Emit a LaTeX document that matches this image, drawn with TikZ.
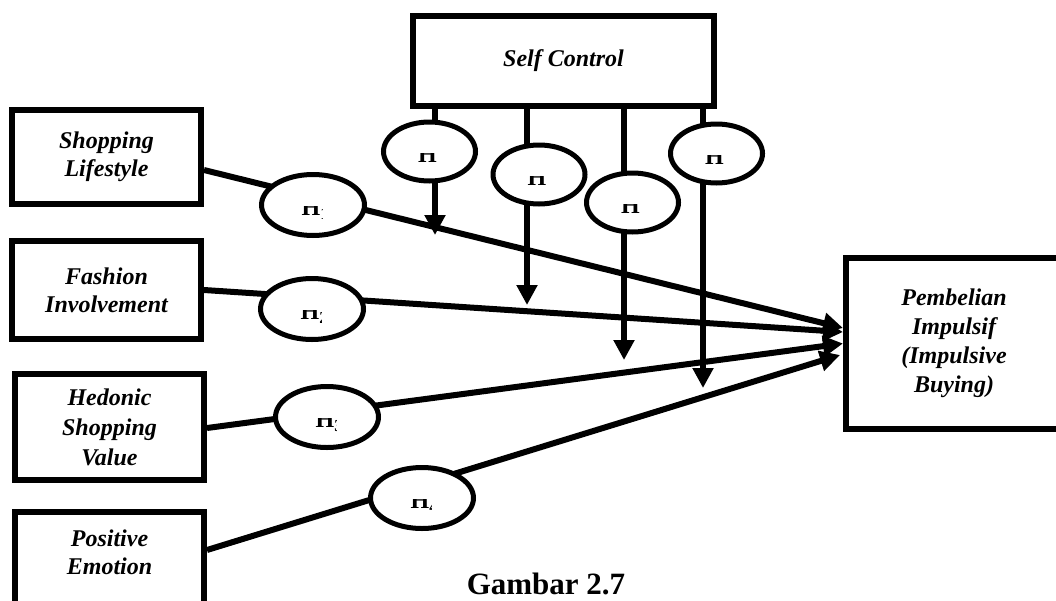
\documentclass[tikz,border=0pt]{standalone}
\usepackage{fontspec}
\setmainfont{Liberation Serif}
\usetikzlibrary{arrows.meta,shapes.geometric,calc}
\newcommand\hyplab[2]{%
  \begin{scope}
    \clip ($(#1.center)+(-20,1.5)$) rectangle ($(#1.center)+(9.5,20)$);
    \node[hlab] at ($(#1.center)+(-11.5,10.5)$) {#2};
  \end{scope}}
\begin{document}
\begin{tikzpicture}[x=1pt,y=-1pt,
  box/.style={draw, line width=6pt, rectangle, align=center, inner sep=0pt,
    font=\fontsize{24}{28}\selectfont\bfseries\itshape},
  hyp/.style={draw, ellipse, line width=5pt, fill=white, inner sep=0pt},
  lhyp/.style={hyp, minimum width=103pt, minimum height=61pt},
  thyp/.style={hyp, minimum width=92pt, minimum height=59pt},
  conn/.style={line width=6pt},
  arr/.style={conn, -{Triangle[length=20pt,width=20pt]}},
  hlab/.style={font=\fontsize{24}{28}\selectfont\bfseries, inner sep=0pt, anchor=base west}
]
\useasboundingbox (0,0) rectangle (1056,600);
\clip (0,0) rectangle (1056,600);

% boxes
\node[box, minimum width=301pt, minimum height=90pt] (SC) at (563.5,61) {Self Control};
\node[box, minimum width=189pt, minimum height=94pt] (SL) at (106.5,157) {Shopping\\Lifestyle};
\node[box, minimum width=189pt, minimum height=98pt] (FI) at (106.5,290) {Fashion\\Involvement};
\node[box, minimum width=189pt, minimum height=106pt, font=\fontsize{24}{30}\selectfont\bfseries\itshape] (HS) at (109.5,427) {Hedonic\\Shopping\\Value};
\node[box, minimum width=189pt, minimum height=116pt] (PE) at (109.5,570) {Positive\\Emotion\\\strut};
\node[box, minimum width=216pt, minimum height=171pt, font=\fontsize{24}{29}\selectfont\bfseries\itshape] (PB) at (954,343.5) {Pembelian\\Impulsif\\(Impulsive\\Buying)};

% main paths
\draw[arr] ([yshift=-13pt]SL.east) -- ([yshift=15.5pt]PB.west);
\draw[arr] (FI.east) -- ([yshift=11.5pt]PB.west);
\draw[arr] ([yshift=-1pt]HS.east) -- (PB.west);
\draw[arr] ([yshift=20pt]PE.east) -- ([xshift=-3pt,yshift=-11.5pt]PB.west);

% moderating arrows
\coordinate (m1) at (435,235);
\coordinate (m2) at (527,305);
\coordinate (m3) at (624,360);
\coordinate (m4) at (703,388);
\draw[arr] (SC.south -| m1) -- (m1);
\draw[arr] (SC.south -| m2) -- (m2);
\draw[arr] (SC.south -| m3) -- (m3);
\draw[arr] (SC.south -| m4) -- (m4);

% hypothesis ellipses
\node[lhyp] (H1) at (313,205) {};
\node[lhyp] (H2) at (312,309) {};
\node[lhyp] (H3) at (327,417) {};
\node[lhyp] (H4) at (422,498) {};
\node[thyp] (E1) at (429.5,151.5) {};
\node[thyp] (E2) at (539,174.5) {};
\node[thyp] (E3) at (632.5,202.5) {};
\node[thyp] (E4) at (716.5,153.5) {};
\hyplab{H1}{H\textsubscript{1}}
\hyplab{H2}{H\textsubscript{2}}
\hyplab{H3}{H\textsubscript{3}}
\hyplab{H4}{H\textsubscript{4}}
\hyplab{E1}{H}
\hyplab{E2}{H}
\hyplab{E3}{H}
\hyplab{E4}{H}

% caption
\node[font=\fontsize{31}{36}\selectfont\bfseries, anchor=base, inner sep=0pt] (cap) at (546,594) {Gambar 2.7};
\end{tikzpicture}
\end{document}
